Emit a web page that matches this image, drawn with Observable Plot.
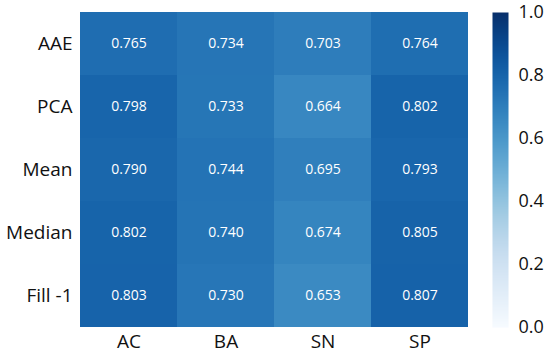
<!DOCTYPE html>
<html>
<head>
<meta charset="utf-8">
<script src="https://cdn.jsdelivr.net/npm/d3@7"></script>
<script src="https://cdn.jsdelivr.net/npm/@observablehq/plot@0.6"></script>
<style>
  html, body { margin: 0; padding: 0; background: #fff; }
  #wrap { position: relative; width: 550px; height: 358px; font-family: "Open Sans", sans-serif; }
  #wrap svg { position: absolute; left: 0; top: 0; }
  #bar { pointer-events: none; }
</style>
</head>
<body>
<div id="wrap"></div>
<script>
const methods = ["AAE", "PCA", "Mean", "Median", "Fill -1"];
const metrics = ["AC", "BA", "SN", "SP"];
const AC = [0.765, 0.798, 0.790, 0.802, 0.803];
const BA = [0.734, 0.733, 0.744, 0.740, 0.730];
const SN = [0.703, 0.664, 0.695, 0.674, 0.653];
const SP = [0.764, 0.802, 0.793, 0.805, 0.807];
const colorTicks = [0, 0.2, 0.4, 0.6, 0.8, 1.0];

const series = {AC, BA, SN, SP};
const data = [];
methods.forEach((m, i) => metrics.forEach(k => data.push({method: m, metric: k, value: series[k][i]})));

const W = 550, H = 358, mTop = 12, mBottom = 31;
const font = "Open Sans, sans-serif";

const heat = Plot.plot({
  width: W, height: H,
  marginLeft: 80, marginRight: 82, marginTop: mTop, marginBottom: mBottom,
  style: {fontFamily: font, background: "transparent", overflow: "visible", color: "#111"},
  x: {domain: metrics, padding: 0, label: null},
  y: {domain: methods, padding: 0, label: null},
  color: {type: "linear", scheme: "blues", domain: [0, 1]},
  marks: [
    Plot.cell(data, {x: "metric", y: "method", fill: "value", inset: 0}),
    Plot.text(data, {x: "metric", y: "method", text: d => d.value.toFixed(3), fill: "white", fontSize: 14}),
    Plot.axisX({tickSize: 0, tickPadding: 7, fontSize: 19, label: null}),
    Plot.axisY({tickSize: 0, tickPadding: 8, fontSize: 19, label: null})
  ]
});
heat.setAttribute("id", "heat");

const bar = Plot.plot({
  width: W, height: H,
  marginLeft: 492, marginRight: 42, marginTop: mTop, marginBottom: mBottom,
  style: {fontFamily: font, background: "transparent", overflow: "visible", color: "#111"},
  x: {domain: [0, 1], axis: null},
  y: {domain: [0, 1], axis: null},
  color: {type: "linear", scheme: "blues", domain: [0, 1]},
  marks: [
    Plot.raster({x1: 0, x2: 1, y1: 0, y2: 1, width: 4, height: 315, fill: (x, y) => y, imageRendering: "auto"}),
    Plot.axisY(colorTicks, {anchor: "right", tickSize: 0, tickPadding: 10, fontSize: 18, tickFormat: d3.format(".1f"), label: null})
  ]
});
bar.setAttribute("id", "bar");

const wrap = document.getElementById("wrap");
wrap.appendChild(heat);
wrap.appendChild(bar);
</script>
</body>
</html>
